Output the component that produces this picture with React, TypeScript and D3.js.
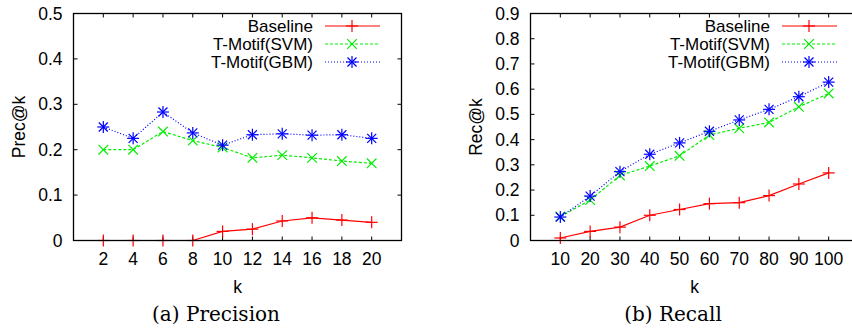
import React, { useRef, useEffect } from 'react';
import * as d3 from 'd3';

// precision panel
const precK = [2, 4, 6, 8, 10, 12, 14, 16, 18, 20];
const precBaseline = [0, 0, 0, 0, 0.02, 0.025, 0.043, 0.05, 0.045, 0.04];
const precSVM = [0.2, 0.2, 0.24, 0.22, 0.205, 0.182, 0.188, 0.182, 0.175, 0.17];
const precGBM = [0.25, 0.225, 0.283, 0.237, 0.21, 0.233, 0.235, 0.232, 0.233, 0.225];
const precYTicks = [0, 0.1, 0.2, 0.3, 0.4, 0.5];

// recall panel
const recK = [10, 20, 30, 40, 50, 60, 70, 80, 90, 100];
const recBaseline = [0.01, 0.036, 0.053, 0.1, 0.123, 0.146, 0.15, 0.178, 0.224, 0.268];
const recSVM = [0.095, 0.16, 0.258, 0.295, 0.336, 0.418, 0.445, 0.468, 0.53, 0.583];
const recGBM = [0.093, 0.176, 0.273, 0.342, 0.387, 0.433, 0.478, 0.52, 0.57, 0.628];
const recYTicks = [0, 0.1, 0.2, 0.3, 0.4, 0.5, 0.6, 0.7, 0.8, 0.9];

const seriesNames = ['Baseline', 'T-Motif(SVM)', 'T-Motif(GBM)'];
const seriesColors = ['#ff0000', '#00ee00', '#0000ff'];
const seriesDash = [null, '3,2', '1,2'];
const seriesMarker = ['plus', 'cross', 'star'];

const SANS = 'Liberation Sans, Arial, Helvetica, sans-serif';
const FS = 17.5;

type G = d3.Selection<SVGGElement, unknown, null, undefined>;

function drawMarker(g: G, kind: string, x: number, y: number, color: string) {
  const r = 6;
  const segs: number[][] = [];
  if (kind === 'plus' || kind === 'star') {
    segs.push([x - r, y, x + r, y], [x, y - r, x, y + r]);
  }
  if (kind === 'cross' || kind === 'star') {
    const d = kind === 'star' ? r * 0.75 : r * 0.8;
    segs.push([x - d, y - d, x + d, y + d], [x - d, y + d, x + d, y - d]);
  }
  segs.forEach(s => {
    g.append('line')
      .attr('x1', s[0]).attr('y1', s[1]).attr('x2', s[2]).attr('y2', s[3])
      .attr('stroke', color).attr('stroke-width', 1.2);
  });
}

function drawPanel(
  root: G,
  opts: {
    left: number; right: number; top: number; bottom: number;
    xDomain: [number, number]; yDomain: [number, number];
    ks: number[]; yTicks: number[]; series: number[][];
    yLabel: string; caption: string; captionX: number; legendX: number;
  }
) {
  const x = d3.scaleLinear().domain(opts.xDomain).range([opts.left, opts.right]);
  const y = d3.scaleLinear().domain(opts.yDomain).range([opts.bottom, opts.top]);
  const g = root.append('g');
  const tick = 4;

  // y ticks (both sides, inward)
  opts.yTicks.forEach(t => {
    g.append('line')
      .attr('x1', opts.left).attr('x2', opts.left + tick)
      .attr('y1', y(t)).attr('y2', y(t)).attr('stroke', '#000');
    g.append('line')
      .attr('x1', opts.right).attr('x2', opts.right - tick)
      .attr('y1', y(t)).attr('y2', y(t)).attr('stroke', '#000');
    g.append('text')
      .attr('x', opts.left - 11).attr('y', y(t) + 6)
      .attr('text-anchor', 'end')
      .attr('font-family', SANS).attr('font-size', FS)
      .text(t === 0 ? '0' : d3.format('.1f')(t));
  });

  // x ticks
  opts.ks.forEach(k => {
    g.append('line')
      .attr('x1', x(k)).attr('x2', x(k))
      .attr('y1', opts.bottom).attr('y2', opts.bottom - tick).attr('stroke', '#000');
    g.append('line')
      .attr('x1', x(k)).attr('x2', x(k))
      .attr('y1', opts.top).attr('y2', opts.top + tick).attr('stroke', '#000');
    g.append('text')
      .attr('x', x(k)).attr('y', opts.bottom + 24)
      .attr('text-anchor', 'middle')
      .attr('font-family', SANS).attr('font-size', FS)
      .text(k);
  });

  // series
  opts.series.forEach((vals, i) => {
    const line = d3.line<number>()
      .x((_, j) => x(opts.ks[j]))
      .y(v => y(v));
    g.append('path')
      .attr('d', line(vals))
      .attr('fill', 'none')
      .attr('stroke', seriesColors[i])
      .attr('stroke-width', 1.2)
      .attr('stroke-dasharray', seriesDash[i]);
    vals.forEach((v, j) => drawMarker(g, seriesMarker[i], x(opts.ks[j]), y(v), seriesColors[i]));
  });

  // frame
  g.append('rect')
    .attr('x', opts.left).attr('y', opts.top)
    .attr('width', opts.right - opts.left).attr('height', opts.bottom - opts.top)
    .attr('fill', 'none').attr('stroke', '#000').attr('stroke-width', 1.3);

  // legend
  seriesNames.forEach((name, i) => {
    const ly = 26 + i * 18;
    g.append('text')
      .attr('x', opts.legendX).attr('y', ly + 6)
      .attr('text-anchor', 'end')
      .attr('font-family', SANS).attr('font-size', 17)
      .text(name);
    g.append('line')
      .attr('x1', opts.legendX + 12).attr('x2', opts.legendX + 67)
      .attr('y1', ly).attr('y2', ly)
      .attr('stroke', seriesColors[i]).attr('stroke-width', 1.2)
      .attr('stroke-dasharray', seriesDash[i]);
    drawMarker(g, seriesMarker[i], opts.legendX + 39, ly, seriesColors[i]);
  });

  // axis labels
  g.append('text')
    .attr('x', (opts.left + opts.right) / 2)
    .attr('y', opts.bottom + 52)
    .attr('text-anchor', 'middle')
    .attr('font-family', SANS).attr('font-size', FS)
    .text('k');
  g.append('text')
    .attr('transform', `translate(${opts.left - 49}, ${(opts.top + opts.bottom) / 2}) rotate(-90)`)
    .attr('text-anchor', 'middle')
    .attr('font-family', SANS).attr('font-size', FS)
    .text(opts.yLabel);

  g.append('text')
    .attr('x', opts.captionX).attr('y', 321)
    .attr('text-anchor', 'middle')
    .attr('font-family', 'DejaVu Serif, Liberation Serif, serif').attr('font-size', 20)
    .text(opts.caption);
}

const App = () => {
  const ref = useRef<SVGSVGElement>(null);

  useEffect(() => {
    const svg = d3.select(ref.current);
    svg.selectAll('*').remove();
    const root = svg.append('g') as unknown as G;

    drawPanel(root, {
      left: 73.5, right: 401.5, top: 13.5, bottom: 240.5,
      xDomain: [0, 22], yDomain: [0, 0.5],
      ks: precK, yTicks: precYTicks,
      series: [precBaseline, precSVM, precGBM],
      yLabel: 'Prec@k', caption: '(a) Precision', captionX: 216, legendX: 313,
    });

    drawPanel(root, {
      left: 530.5, right: 858.5, top: 13.5, bottom: 240.5,
      xDomain: [0, 110], yDomain: [0, 0.9],
      ks: recK, yTicks: recYTicks,
      series: [recBaseline, recSVM, recGBM],
      yLabel: 'Rec@k', caption: '(b) Recall', captionX: 673, legendX: 770,
    });
  }, []);

  return (
    <svg
      ref={ref}
      width={852}
      height={328}
      style={{ position: 'absolute', left: 0, top: 0, background: '#fff' }}
    />
  );
};

export default App;
